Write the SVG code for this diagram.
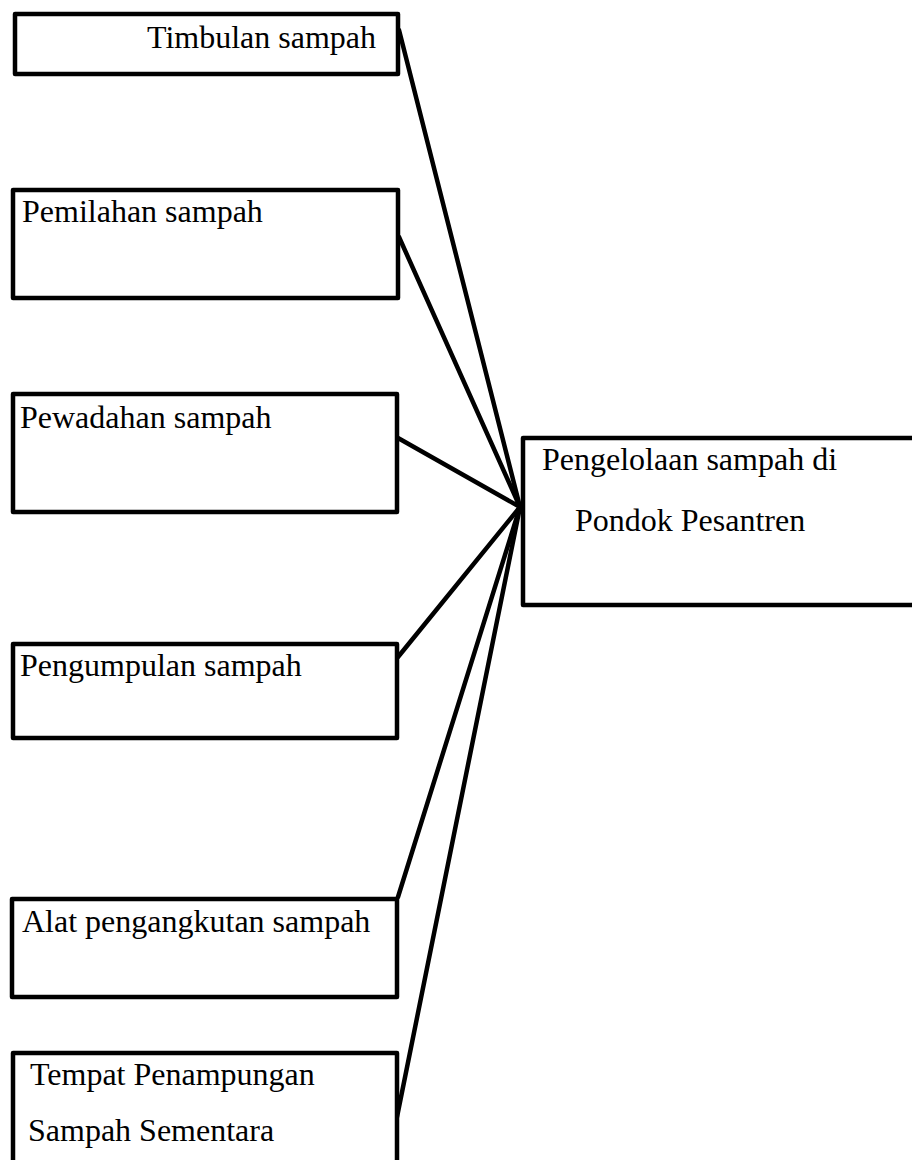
<svg xmlns="http://www.w3.org/2000/svg" width="912" height="1160" viewBox="0 0 912 1160">
<style>
.box{fill:#fff;stroke:#000;stroke-width:4.5;stroke-linejoin:round}
.t{font-family:"Liberation Serif","Times New Roman",serif;font-size:32px;fill:#000}
.c{stroke:#000;stroke-width:4.5;fill:none;stroke-linecap:round}
</style>
<rect width="912" height="1160" fill="#fff"/>
<g id="connectors">
<line class="c" x1="399" y1="30" x2="520" y2="507"/>
<line class="c" x1="399" y1="237" x2="520" y2="507"/>
<line class="c" x1="398" y1="438" x2="520" y2="507"/>
<line class="c" x1="398" y1="657" x2="520" y2="507"/>
<line class="c" x1="398" y1="897" x2="520" y2="507"/>
<line class="c" x1="397" y1="1117" x2="520" y2="507"/>
</g>
<g id="timbulan">
<rect class="box" x="15" y="14" width="383" height="60"/>
<text class="t" x="147" y="48">Timbulan sampah</text>
</g>
<g id="pemilahan">
<rect class="box" x="13" y="190" width="385" height="108"/>
<text class="t" x="22" y="222">Pemilahan sampah</text>
</g>
<g id="pewadahan">
<rect class="box" x="13" y="394" width="384" height="118"/>
<text class="t" x="20" y="428">Pewadahan sampah</text>
</g>
<g id="pengumpulan">
<rect class="box" x="13" y="644" width="384" height="94"/>
<text class="t" x="20" y="676">Pengumpulan sampah</text>
</g>
<g id="alat">
<rect class="box" x="12" y="899" width="385" height="98"/>
<text class="t" x="22" y="932">Alat pengangkutan sampah</text>
</g>
<g id="tempat">
<rect class="box" x="13" y="1053" width="384" height="120"/>
<text class="t" x="30" y="1085">Tempat Penampungan</text>
<text class="t" x="28" y="1141">Sampah Sementara</text>
</g>
<g id="pengelolaan">
<rect class="box" x="523" y="438" width="400" height="167"/>
<text class="t" x="542" y="470">Pengelolaan sampah di</text>
<text class="t" x="575" y="531">Pondok Pesantren</text>
</g>
</svg>
